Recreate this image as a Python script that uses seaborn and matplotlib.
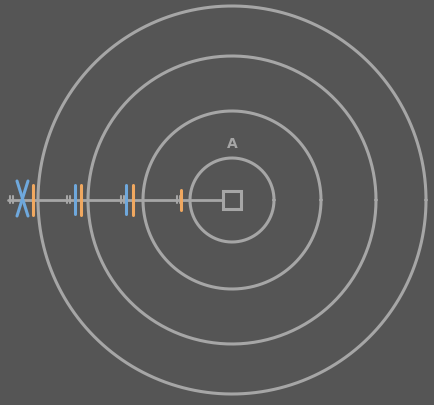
import matplotlib
matplotlib.use("Agg")
import matplotlib.pyplot as plt
import seaborn as sns
import numpy as np

# diagram values (pixel space, centre at 232,200)
centre = (232, 200)
ring_radii = [42, 89, 144, 194]
blue_marks = [75, 126]
blue_cross = 22
orange_marks = [33, 81, 133, 181]
tick_groups = [10, 67, 121, 177]
label = "A"

sns.set_style("dark", {"axes.facecolor": "#555555", "figure.facecolor": "#555555"})
fig = plt.figure(figsize=(4.34, 4.05), dpi=100)
ax = fig.add_axes([0, 0, 1, 1])
ax.set_xlim(0, 434)
ax.set_ylim(405, 0)
ax.set_aspect("equal")
ax.axis("off")

grey = "#a6a6a6"
cx, cy = centre
t = np.linspace(0, 2 * np.pi, 400)
for r in ring_radii:
    ax.plot(cx + r * np.cos(t), cy + r * np.sin(t), color=grey, lw=2.2)

ax.add_patch(plt.Rectangle((cx - 9, cy - 9), 18, 18, fill=False, ec=grey, lw=2.2))
ax.text(cx, cy - 56, label, color=grey, fontsize=10, fontweight="bold", ha="center", va="center")

ax.plot([8, cx - 9], [cy, cy], color=grey, lw=2)
for x in tick_groups:
    ax.plot([x, x], [cy - 4, cy + 3], color=grey, lw=1.5)
    ax.plot([x + 3, x + 3], [cy - 4, cy + 3], color=grey, lw=1.5)

for x in blue_marks:
    ax.plot([x, x], [cy - 15, cy + 14], color="#6fa8dc", lw=2.2)
ax.plot([blue_cross - 5, blue_cross + 6], [cy - 19, cy + 16], color="#6fa8dc", lw=2.2)
ax.plot([blue_cross + 6, blue_cross - 5], [cy - 19, cy + 16], color="#6fa8dc", lw=2.2)
for x in orange_marks:
    h = 10 if x == 181 else 15
    ax.plot([x, x], [cy - h, cy + h], color="#f0a860", lw=2.2)

fig.savefig("out.png", dpi=100, facecolor="#555555")
